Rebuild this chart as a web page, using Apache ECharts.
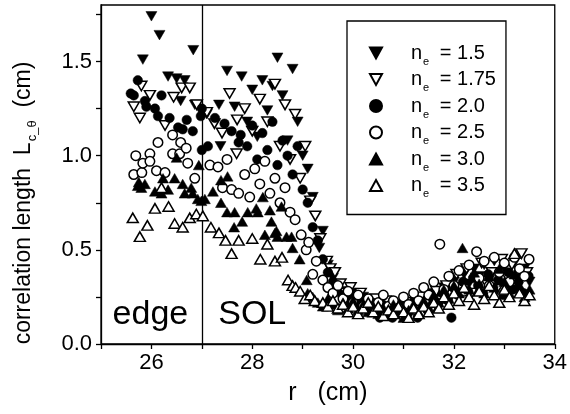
<!DOCTYPE html>
<html><head><meta charset="utf-8">
<script src="https://cdn.jsdelivr.net/npm/echarts@6/dist/echarts.min.js"></script>
<style>html,body{margin:0;padding:0;background:#fff}#c{width:570px;height:414px}</style>
</head><body><div id="c"></div><script>
const xTicks = [25, 26, 27, 28, 29, 30, 31, 32, 33, 34];
const xLabels = [26, 28, 30, 32, 34];
const yTicks = [0, 0.25, 0.5, 0.75, 1, 1.25, 1.5, 1.75];
const yLabels = [0, 0.5, 1, 1.5];
const neValues = ['1.5', '1.75', '2.0', '2.5', '3.0', '3.5'];
const boundaryR = 27;

const ne15 = [[25.83,1.51],[26.0,1.74],[26.16,1.64],[26.33,1.42],[26.5,1.41],[26.58,1.29],[26.66,1.40],[26.83,1.56],[26.86,1.27],
[27.1,1.22],[27.34,1.27],[27.37,1.05],[27.5,1.45],[27.65,1.26],[27.79,1.42],[27.9,1.18],[28.0,1.35],[28.1,1.10],[28.2,1.40],[28.3,1.24],[28.4,1.37],[28.5,1.52],[28.6,1.32],[28.7,1.08],[28.8,1.46],[28.9,1.18],[29.0,1.00],[29.1,0.93],[29.2,0.78],[29.33,0.51],[29.4,0.60],[29.5,0.42],[29.6,0.35],[29.7,0.30],[29.8,0.28],[29.9,0.25],[30.0,0.27],[30.1,0.22],[30.2,0.25],[30.3,0.20],[30.4,0.23],[30.5,0.19],[30.6,0.22],[30.7,0.18],[30.8,0.21],[30.9,0.17],[31.0,0.20],[31.1,0.16],[31.2,0.22],[31.3,0.19],[31.4,0.24],[31.5,0.21],[31.6,0.27],[31.7,0.25],[31.8,0.30],[31.9,0.27],[32.0,0.33],[32.1,0.29],[32.2,0.37],[32.3,0.32],[32.4,0.40],[32.5,0.36],[32.6,0.42],[32.7,0.34],[32.8,0.44],[32.9,0.38],[33.0,0.41],[33.1,0.30],[33.2,0.43],[33.3,0.35],[33.4,0.40],[33.5,0.33]];

const ne175 = [[25.65,1.26],[25.77,1.20],[25.8,1.37],[25.97,1.32],[26.27,1.16],[26.44,1.31],[26.6,1.36],[26.76,1.36],[26.9,1.27],[27.1,1.23],[27.55,1.33],[27.7,1.19],[27.69,1.01],
[27.25,1.17],[27.4,1.12],[27.85,1.25],[28.0,1.13],[28.15,1.30],[28.3,1.18],[28.45,1.38],[28.55,1.05],[28.65,1.27],[28.75,0.98],[28.85,1.22],[28.95,0.88],[29.05,1.05],[29.15,0.76],[29.25,0.68],[29.35,0.56],[29.48,0.44],[29.55,0.40],[29.64,0.38],[29.75,0.32],[29.85,0.27],[29.95,0.30],[30.05,0.24],[30.15,0.27],[30.25,0.22],[30.35,0.19],[30.45,0.24],[30.55,0.20],[30.65,0.23],[30.75,0.17],[30.85,0.20],[30.95,0.15],[31.05,0.22],[31.15,0.18],[31.25,0.20],[31.35,0.25],[31.45,0.22],[31.55,0.18],[31.65,0.28],[31.75,0.23],[31.85,0.31],[31.95,0.26],[32.05,0.37],[32.15,0.30],[32.25,0.40],[32.35,0.27],[32.45,0.35],[32.55,0.43],[32.65,0.32],[32.75,0.38],[32.85,0.29],[32.95,0.45],[33.05,0.36],[33.15,0.42],[33.25,0.30],[33.34,0.48],[33.45,0.38]];

const ne20 = [[25.59,1.33],[25.65,1.32],[25.73,1.40],[25.87,1.29],[25.9,1.26],[26.07,1.25],[26.13,1.21],[26.2,1.32],[26.36,1.20],[26.53,1.15],[26.62,1.14],[26.7,1.19],[26.82,1.13],[26.98,1.21],[27.0,1.25],[27.0,1.03],[27.12,1.05],[27.26,1.20],[27.59,1.13],[27.73,1.07],[27.77,1.11],
[27.45,1.17],[27.9,1.05],[28.0,1.16],[28.1,0.98],[28.2,1.12],[28.3,1.03],[28.4,1.18],[28.5,0.95],[28.6,1.08],[28.7,1.00],[28.8,0.90],[28.9,1.05],[29.0,0.82],[29.1,0.75],[29.2,0.62],[29.3,0.55],[29.4,0.45],[29.5,0.38],[29.6,0.33],[29.68,0.29],[29.78,0.26],[29.88,0.23],[29.98,0.27],[30.08,0.21],[30.18,0.24],[30.28,0.19],[30.38,0.22],[30.48,0.17],[30.53,0.14],[30.58,0.21],[30.68,0.19],[30.78,0.14],[30.88,0.18],[30.98,0.22],[31.08,0.16],[31.18,0.19],[31.28,0.14],[31.38,0.21],[31.48,0.18],[31.58,0.24],[31.68,0.21],[31.78,0.27],[31.88,0.23],[31.95,0.14],[31.98,0.30],[32.08,0.26],[32.18,0.33],[32.28,0.28],[32.38,0.35],[32.48,0.31],[32.58,0.27],[32.68,0.37],[32.78,0.30],[32.88,0.34],[32.98,0.26],[33.08,0.38],[33.18,0.29],[33.28,0.33],[33.38,0.27],[33.48,0.36]];

const ne25 = [[25.65,0.90],[25.69,1.00],[25.81,0.91],[25.83,0.96],[25.97,1.01],[25.97,0.97],[26.1,0.92],[26.13,1.07],[26.27,0.91],[26.42,1.11],[26.42,1.01],[26.56,1.01],[26.58,1.07],[26.69,1.04],[26.72,0.96],[26.86,0.88],[27.16,0.95],[27.32,0.94],[27.41,0.83],[27.59,0.82],[27.73,0.80],
[27.5,0.98],[27.85,0.90],[27.95,0.78],[28.05,0.93],[28.15,0.85],[28.25,0.97],[28.35,0.80],[28.45,0.88],[28.55,0.75],[28.65,0.83],[28.75,0.70],[28.85,0.66],[28.97,0.58],[29.07,0.50],[29.12,0.54],[29.2,0.37],[29.27,0.44],[29.4,0.34],[29.5,0.30],[29.6,0.27],[29.7,0.31],[29.8,0.24],[29.9,0.28],[30.0,0.22],[30.1,0.26],[30.2,0.20],[30.3,0.24],[30.4,0.18],[30.5,0.22],[30.6,0.26],[30.7,0.20],[30.8,0.23],[30.9,0.19],[31.0,0.25],[31.1,0.21],[31.2,0.27],[31.3,0.23],[31.4,0.30],[31.5,0.26],[31.6,0.33],[31.72,0.53],[31.8,0.29],[31.9,0.36],[32.0,0.31],[32.1,0.39],[32.2,0.28],[32.3,0.42],[32.45,0.49],[32.5,0.35],[32.6,0.44],[32.7,0.31],[32.8,0.46],[32.9,0.38],[33.0,0.43],[33.1,0.33],[33.2,0.46],[33.3,0.40],[33.4,0.36],[33.49,0.45]];

const ne30 = [[25.73,0.84],[25.75,0.86],[25.8,0.83],[25.87,0.85],[26.07,0.81],[26.2,0.80],[26.23,0.88],[26.33,0.82],[26.46,0.88],[26.5,0.99],[26.62,0.85],[26.66,0.80],[26.79,0.83],[26.82,0.80],[26.92,0.77],[26.94,0.95],[26.99,0.76],[27.06,0.77],[27.22,0.81],[27.38,0.87],[27.51,0.89],[27.38,0.75],[27.5,0.70],[27.65,0.70],[27.64,0.62],[27.8,0.65],[27.91,0.70],[28.08,0.72],[28.11,0.70],[28.21,0.78],[28.25,0.58],[28.35,0.71],[28.38,0.65],[28.45,0.59],[28.48,0.60],[28.5,0.57],[28.58,0.73],[28.68,0.57],[28.78,0.57],[28.8,0.51],[28.94,0.45],[29.08,0.34],[29.1,0.27],
[29.2,0.25],[29.3,0.22],[29.4,0.20],[29.5,0.24],[29.6,0.21],[29.7,0.18],[29.8,0.22],[29.9,0.19],[30.0,0.23],[30.1,0.18],[30.2,0.21],[30.3,0.17],[30.4,0.20],[30.5,0.16],[30.6,0.19],[30.7,0.15],[30.8,0.21],[30.9,0.17],[31.0,0.14],[31.1,0.18],[31.2,0.21],[31.3,0.17],[31.4,0.23],[31.5,0.19],[31.6,0.26],[31.7,0.22],[31.8,0.29],[31.9,0.24],[32.0,0.31],[32.1,0.27],[32.17,0.51],[32.2,0.34],[32.3,0.29],[32.4,0.38],[32.5,0.32],[32.6,0.27],[32.7,0.36],[32.8,0.30],[32.9,0.40],[33.0,0.33],[33.1,0.27],[33.2,0.37],[33.3,0.31],[33.4,0.25],[33.5,0.29]];

const ne35 = [[25.63,0.67],[25.77,0.57],[25.92,0.63],[26.07,0.72],[26.2,0.83],[26.34,0.73],[26.46,0.64],[26.62,0.62],[26.76,0.67],[26.89,0.69],[27.02,0.68],[27.18,0.62],[27.34,0.59],[27.47,0.55],[27.59,0.48],[27.73,0.55],[28.0,0.56],[28.16,0.45],[28.3,0.53],[28.45,0.44],[28.59,0.46],[28.71,0.34],[28.8,0.31],[28.86,0.30],
[28.95,0.28],[29.04,0.24],[29.15,0.26],[29.24,0.23],[29.4,0.22],[29.5,0.20],[29.6,0.23],[29.7,0.19],[29.8,0.21],[29.9,0.17],[30.0,0.20],[30.1,0.16],[30.2,0.19],[30.3,0.22],[30.4,0.17],[30.5,0.20],[30.6,0.15],[30.7,0.18],[30.8,0.16],[30.9,0.20],[31.0,0.17],[31.1,0.14],[31.2,0.19],[31.3,0.16],[31.4,0.20],[31.5,0.17],[31.6,0.22],[31.7,0.19],[31.8,0.25],[31.9,0.21],[32.0,0.27],[32.1,0.23],[32.2,0.30],[32.3,0.25],[32.4,0.21],[32.5,0.28],[32.6,0.24],[32.7,0.31],[32.8,0.26],[32.9,0.22],[33.0,0.29],[33.1,0.25],[33.2,0.48],[33.3,0.27],[33.4,0.23],[33.5,0.26]];

const FONT = '"Liberation Sans", Arial, Helvetica, sans-serif';
const DOWN = 'path://M0,0L10,0L5,9Z';
const UP = 'path://M5,0L10,9L0,9Z';
const seriesData = [ne15, ne175, ne20, ne25, ne30, ne35];
const symbols = [DOWN, DOWN, 'circle', 'circle', UP, UP];
const filled = [true, false, true, false, true, false];

const series = seriesData.map((d, i) => ({
  type: 'scatter',
  name: neValues[i],
  data: d,
  symbol: symbols[i],
  symbolSize: symbols[i] === 'circle' ? 9.5 : [11, 9.5],
  itemStyle: filled[i]
    ? { color: '#000', borderColor: '#000', borderWidth: 0.5, opacity: 1 }
    : { color: '#fff', borderColor: '#000', borderWidth: 1.5, opacity: 1 },
  emphasis: { disabled: true },
  z: 2 + i
}));
series[0].markLine = {
  silent: true, symbol: ['none', 'none'], label: { show: false },
  lineStyle: { color: '#000', width: 1.3, type: 'solid', opacity: 1 },
  data: [{ xAxis: boundaryR }], animation: false
};
series.push({
  type: 'scatter', name: 'annot', symbolSize: 0, silent: true, z: 20,
  itemStyle: { opacity: 1, color: '#000' },
  data: [[25.98, 0.157, 'edge'], [28.0, 0.157, 'SOL']],
  label: { show: true, position: 'inside', formatter: p => p.data[2],
    fontSize: 34, fontFamily: FONT, color: '#000', opacity: 1 }
});

const chart = echarts.init(document.getElementById('c'), null, { renderer: 'canvas' });
chart.setOption({
  animation: false,
  backgroundColor: '#fff',
  grid: { left: 101, right: 15, top: 5, bottom: 70, show: true, borderColor: '#000', borderWidth: 1.3, backgroundColor: 'transparent' },
  xAxis: {
    type: 'value', min: 25, max: 34,
    name: 'r   (cm)', nameLocation: 'middle', nameGap: 37,
    nameTextStyle: { fontSize: 25, fontFamily: FONT, color: '#000' },
    axisLine: { lineStyle: { color: '#000', width: 1.3 } },
    axisTick: { show: true, length: 5, inside: false, customValues: xTicks, lineStyle: { color: '#000', width: 1.3 } },
    axisLabel: { customValues: xLabels, fontSize: 22, fontFamily: FONT, color: '#000', margin: 8 },
    splitLine: { show: false }
  },
  yAxis: {
    type: 'value', min: 0, max: 1.8,
    axisLine: { lineStyle: { color: '#000', width: 1.3 } },
    axisTick: { show: true, length: 5, inside: false, customValues: yTicks, lineStyle: { color: '#000', width: 1.3 } },
    axisLabel: { customValues: yLabels, formatter: v => v.toFixed(1), fontSize: 22, fontFamily: FONT, color: '#000', margin: 9 },
    splitLine: { show: false }
  },
  graphic: [{
    type: 'text', x: 25, y: 203, rotation: Math.PI / 2, silent: true,
    style: {
      text: '{a|correlation length  L}{s|c_θ}{a|  (cm)}',
      align: 'center', verticalAlign: 'middle', fill: '#000',
      fontSize: 23, fontFamily: FONT,
      rich: {
        a: { fontSize: 23, fontFamily: FONT, fill: '#000', lineHeight: 26, verticalAlign: 'top' },
        s: { fontSize: 13, fontFamily: FONT, fill: '#000', lineHeight: 13, padding: [14, 0, 0, 1], verticalAlign: 'top' }
      }
    }
  }],
  legend: {
    data: neValues,
    orient: 'vertical', left: 347, top: 21,
    padding: [22, 10, 15, 22], itemGap: 2.5, itemWidth: 12, itemHeight: 12,
    borderColor: '#000', borderWidth: 1.3, backgroundColor: '#fff',
    selectedMode: false,
    formatter: n => '{n|n}{e|e}{t| = ' + n + '}',
    textStyle: { fontFamily: FONT, color: '#000',
      rich: {
        n: { fontSize: 20, fontFamily: FONT, lineHeight: 20, padding: [0, 0, 0, 24], verticalAlign: 'top' },
        e: { fontSize: 11, fontFamily: FONT, lineHeight: 11, padding: [13, 5, 0, 1], verticalAlign: 'top' },
        t: { fontSize: 20, fontFamily: FONT, lineHeight: 20, verticalAlign: 'top' }
      } }
  },
  series: series
});
</script></body></html>
